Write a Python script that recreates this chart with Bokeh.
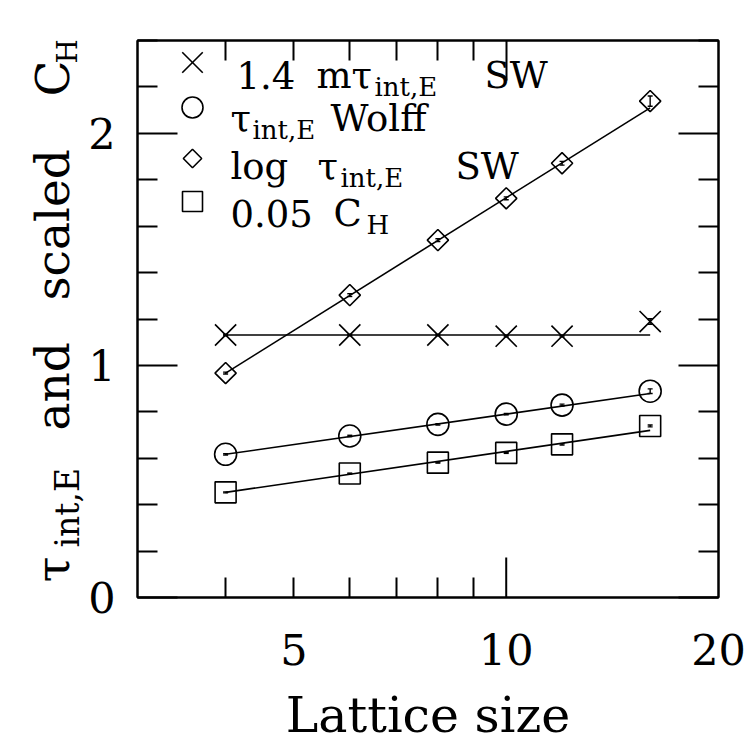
import math
from bokeh.plotting import figure
from bokeh.layouts import row
from bokeh.models import (Label, FixedTicker, LinearAxis, LogAxis, Range1d,
                          ColumnDataSource, Whisker, TeeHead, BasicTickFormatter)
from bokeh.embed import file_html
from bokeh.resources import INLINE

# ---------------- data ----------------
lattice = [4, 6, 8, 10, 12, 16]
sw_m_tau = [1.131, 1.131, 1.131, 1.126, 1.126, 1.189]      # 1.4 m tau_int,E SW
sw_m_tau_err = [0.003, 0.003, 0.003, 0.003, 0.003, 0.012]
wolff_tau = [0.617, 0.696, 0.746, 0.790, 0.829, 0.889]     # tau_int,E Wolff
wolff_tau_err = [0.003, 0.003, 0.003, 0.003, 0.004, 0.010]
log_sw_tau = [0.967, 1.303, 1.540, 1.720, 1.871, 2.139]    # log tau_int,E SW
log_sw_tau_err = [0.004, 0.006, 0.006, 0.006, 0.008, 0.022]
scaled_ch = [0.453, 0.534, 0.581, 0.623, 0.660, 0.739]     # 0.05 C_H
scaled_ch_err = [0.002, 0.002, 0.002, 0.002, 0.003, 0.004]

fit_x = [4, 16]
fit_sw_m_tau = [1.131, 1.131]
fit_wolff_tau = [0.617, 0.879]
fit_log_sw_tau = [0.967, 2.110]
fit_scaled_ch = [0.453, 0.720]

x_tick_values = [5, 10, 20]
x_tick_labels = ["5", "10", "20"]
x_major_ticks = [10]
x_minor_ticks = [4, 5, 6, 7, 8, 9]
y_major_ticks = [0, 1, 2]
y_minor_ticks = [0.2, 0.4, 0.6, 0.8, 1.2, 1.4, 1.6, 1.8, 2.2, 2.4]

# ---------------- geometry / style (page pixels) ----------------
W = H = 752
SIDE_W = 84                      # width of the strip holding the y-axis title
FL, FR, FT, FB = 137, 718, 40, 597
XMIN, XMAX = 3, 20
YMIN, YMAX = 0, 2.4
FONT = "DejaVu Serif"
LW = 1.6


def dx(sx):
    f = (sx - FL) / (FR - FL)
    return 10 ** (math.log10(XMIN) + f * (math.log10(XMAX) - math.log10(XMIN)))


def dy(sy):
    return YMIN + (FB - sy) / (FB - FT) * (YMAX - YMIN)


# ---------------- main plot ----------------
p = figure(width=W - SIDE_W, height=H, x_axis_type="log",
           x_range=Range1d(XMIN, XMAX), y_range=Range1d(YMIN, YMAX),
           output_backend="svg", toolbar_location=None,
           min_border_left=FL - SIDE_W, min_border_right=W - FR,
           min_border_top=FT, min_border_bottom=H - FB)
p.grid.visible = False
p.outline_line_color = "black"
p.outline_line_width = 2
p.background_fill_color = "white"
p.border_fill_color = "white"


def style_axis(ax, ticks, minor, labels, major_in=40):
    ax.ticker = FixedTicker(ticks=ticks, minor_ticks=minor)
    ax.major_tick_in = major_in
    ax.major_tick_out = 0
    ax.minor_tick_in = 20
    ax.minor_tick_out = 0
    for a in ("axis_line", "major_tick_line", "minor_tick_line"):
        setattr(ax, a + "_color", "black")
        setattr(ax, a + "_width", 2)
    if labels:
        ax.major_label_text_font = FONT
        ax.major_label_text_font_size = "43px"
        ax.major_label_text_color = "black"
    else:
        ax.major_label_text_font_size = "2px"
        ax.major_label_text_color = None
        ax.major_label_standoff = 0


# bottom: labels at 5, 10, 20; short ticks at 4..9, long tick at 10 drawn below
xb = p.xaxis[0]
style_axis(xb, x_tick_values, x_minor_ticks, True, major_in=0)
xb.formatter = BasicTickFormatter()
xb.major_label_overrides = {v: s for v, s in zip(x_tick_values, x_tick_labels)}
xb.major_label_standoff = 36
xb.axis_label = "Lattice size"
xb.axis_label_text_font = FONT
xb.axis_label_text_font_size = "49px"
xb.axis_label_text_font_style = "normal"
xb.axis_label_text_color = "black"
xb.axis_label_standoff = 19

yl = p.yaxis[0]
style_axis(yl, y_major_ticks, y_minor_ticks, True)
yl.major_label_standoff = 22

top = LogAxis()
style_axis(top, x_major_ticks, x_minor_ticks, False)
p.add_layout(top, "above")
right = LinearAxis()
style_axis(right, y_major_ticks, y_minor_ticks, False)
p.add_layout(right, "right")

# long major tick of the bottom axis at 10
p.ray(x=x_major_ticks, y=[YMIN] * len(x_major_ticks), length=40, length_units="screen",
      angle=90, angle_units="deg", line_color="black", line_width=2)

# fit lines
for fy in (fit_sw_m_tau, fit_wolff_tau, fit_log_sw_tau, fit_scaled_ch):
    p.line(fit_x, fy, line_color="black", line_width=LW)

# error bars
for ys, es in ((sw_m_tau, sw_m_tau_err), (wolff_tau, wolff_tau_err),
               (log_sw_tau, log_sw_tau_err), (scaled_ch, scaled_ch_err)):
    src = ColumnDataSource(dict(x=lattice,
                                lo=[y - e for y, e in zip(ys, es)],
                                hi=[y + e for y, e in zip(ys, es)]))
    p.add_layout(Whisker(source=src, base="x", lower="lo", upper="hi",
                         dimension="height", line_color="black", line_width=1.4,
                         upper_head=TeeHead(size=5, line_width=1.4, line_color="black"),
                         lower_head=TeeHead(size=5, line_width=1.4, line_color="black")))

# markers
p.scatter(lattice, sw_m_tau, marker="x", size=30, line_color="black", line_width=LW)
p.scatter(lattice, wolff_tau, marker="circle", size=22, fill_color=None,
          line_color="black", line_width=LW)
p.scatter(lattice, log_sw_tau, marker="square", size=15, angle=math.pi / 4,
          fill_color=None, line_color="black", line_width=LW)
p.scatter(lattice, scaled_ch, marker="square", size=21, fill_color=None,
          line_color="black", line_width=LW)


def txt(s, sx, sy, size):
    p.add_layout(Label(x=dx(sx), y=dy(sy), text=s, text_font=FONT,
                       text_font_size=f"{size}px", text_color="black",
                       text_align="left", text_baseline="alphabetic"))


# legend markers
leg_x = dx(192)
p.scatter([leg_x], [dy(62)], marker="x", size=29, line_color="black", line_width=LW)
p.scatter([leg_x], [dy(107)], marker="circle", size=21, fill_color=None,
          line_color="black", line_width=LW)
p.scatter([leg_x], [dy(158)], marker="square", size=13, angle=math.pi / 4,
          fill_color=None, line_color="black", line_width=LW)
p.scatter([leg_x], [dy(201)], marker="square", size=20, fill_color=None,
          line_color="black", line_width=LW)

MAIN, SUB = 37, 26
txt("1.4", 236, 75, MAIN); txt("m\u03c4", 316, 75, MAIN); txt("int,E", 374, 86, SUB); txt("SW", 484, 75, MAIN)
txt("\u03c4", 230, 118, MAIN); txt("int,E", 252, 129, SUB); txt("Wolff", 330, 118, MAIN)
txt("log", 230, 166, MAIN); txt("\u03c4", 317, 166, MAIN); txt("int,E", 340, 177, SUB); txt("SW", 455, 166, MAIN)
txt("0.05", 230, 213, MAIN); txt("C", 333, 213, MAIN); txt("H", 366, 224, SUB)

# ---------------- strip with the rotated y-axis title ----------------
# its frame is given the same vertical extent as the main frame, so the row
# layout keeps both aligned; page y of a text = H - data y
side = figure(frame_width=SIDE_W, frame_height=FB - FT,
              x_range=Range1d(0, SIDE_W), y_range=Range1d(H - FB, H - FT),
              output_backend="svg", toolbar_location=None, title=None,
              x_axis_location=None, y_axis_location=None,
              min_border=0, min_border_left=0, min_border_right=0,
              min_border_top=FT, min_border_bottom=H - FB)
side.grid.visible = False
side.outline_line_color = None
side.background_fill_color = "white"
side.border_fill_color = "white"


def vtxt(s, sx, sy, size):
    side.add_layout(Label(x=sx, y=H - sy, text=s, text_font=FONT,
                          text_font_size=f"{size}px", text_color="black",
                          text_align="left", text_baseline="alphabetic",
                          angle=math.pi / 2))


vtxt("\u03c4", 52, 582, 47)
vtxt("int,E", 67, 547, 33)
vtxt("and", 52, 430, 47)
vtxt("scaled", 52, 300, 47)
vtxt("C", 52, 96, 47)
vtxt("H", 67, 63, 28)

layout = row(side, p)
open("out.html", "w").write(file_html(layout, INLINE))
